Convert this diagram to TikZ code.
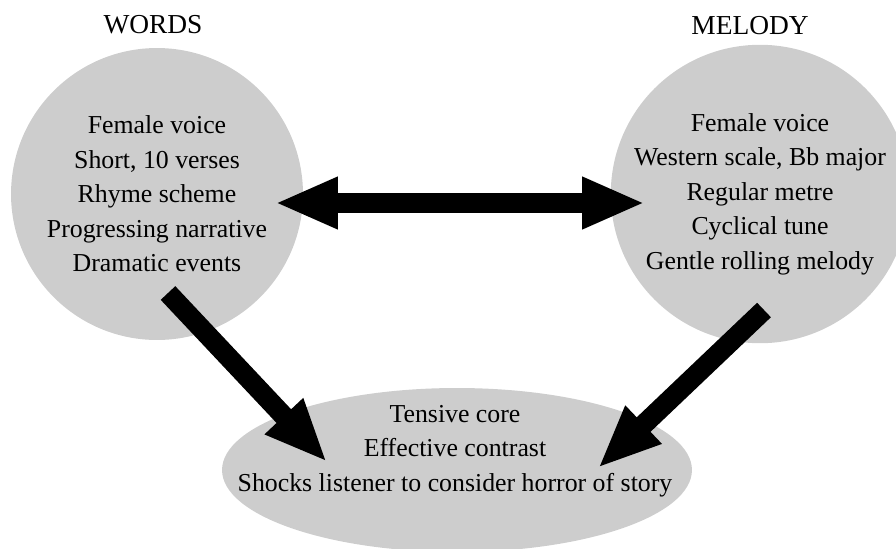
\documentclass[tikz,border=0pt]{standalone}
\usepackage{fontspec}
\setmainfont{Liberation Serif}
\usetikzlibrary{arrows.meta}
\usetikzlibrary{shapes.geometric}
\usetikzlibrary{positioning}
\definecolor{bubblegray}{RGB}{205,205,205}

\begin{document}
\begin{tikzpicture}[
        x=0.02cm, y=-0.02cm,
        font=\fontsize{14.7}{19.6}\selectfont,
        % Style for the two round blocks at the top
        bubble/.style={circle, fill=bubblegray, align=center, minimum size=5.84cm, inner sep=0pt},
        % Style for the oval block at the bottom
        corebox/.style={ellipse, fill=bubblegray, minimum width=9.4cm, minimum height=3.28cm, inner sep=0pt},
        % Headings over the round blocks
        heading/.style={align=center, font=\fontsize{15.6}{19}\selectfont},
        % Fat black arrows
        fatarrow/.style={line width=0.4cm, -{Triangle[width=0.96cm, length=1.26cm]}},
        fatboth/.style={line width=0.4cm, {Triangle[width=0.96cm, length=1.26cm]}-{Triangle[width=0.96cm, length=1.26cm]}}
    ]
    \useasboundingbox (0,0) rectangle (896,548);

    % --- 1. NODES ---
    \node[bubble] (Words) at (157,194) {Female voice\\Short, 10 verses\\Rhyme scheme\\Progressing narrative\\Dramatic events};
    \node[bubble] (Melody) at (760,194) {Female voice\\Western scale, Bb major\\Regular metre\\Cyclical tune\\Gentle rolling melody};

    \node[heading] (WordsTitle) at (153,25) {WORDS};
    \node[heading] (MelodyTitle) at (750,26) {MELODY};

    % Oval at the bottom, text sits a little above its centre
    \node[corebox] (Core) at (457,470) {};
    \node[align=center] (CoreText) at (455,451) {Tensive core\\Effective contrast\\Shocks listener to consider horror of story};

    % --- 2. ARROWS ---
    \draw[fatboth] ([shift={(118,9)}]Words.center) -- ([shift={(-115,9)}]Melody.center);
    \draw[fatarrow] ([shift={(11,99)}]Words.center) -- ([shift={(-130,-8)}]Core.center);
    \draw[fatarrow] ([shift={(4,116)}]Melody.center) -- ([shift={(141,-2)}]Core.center);

\end{tikzpicture}
\end{document}
